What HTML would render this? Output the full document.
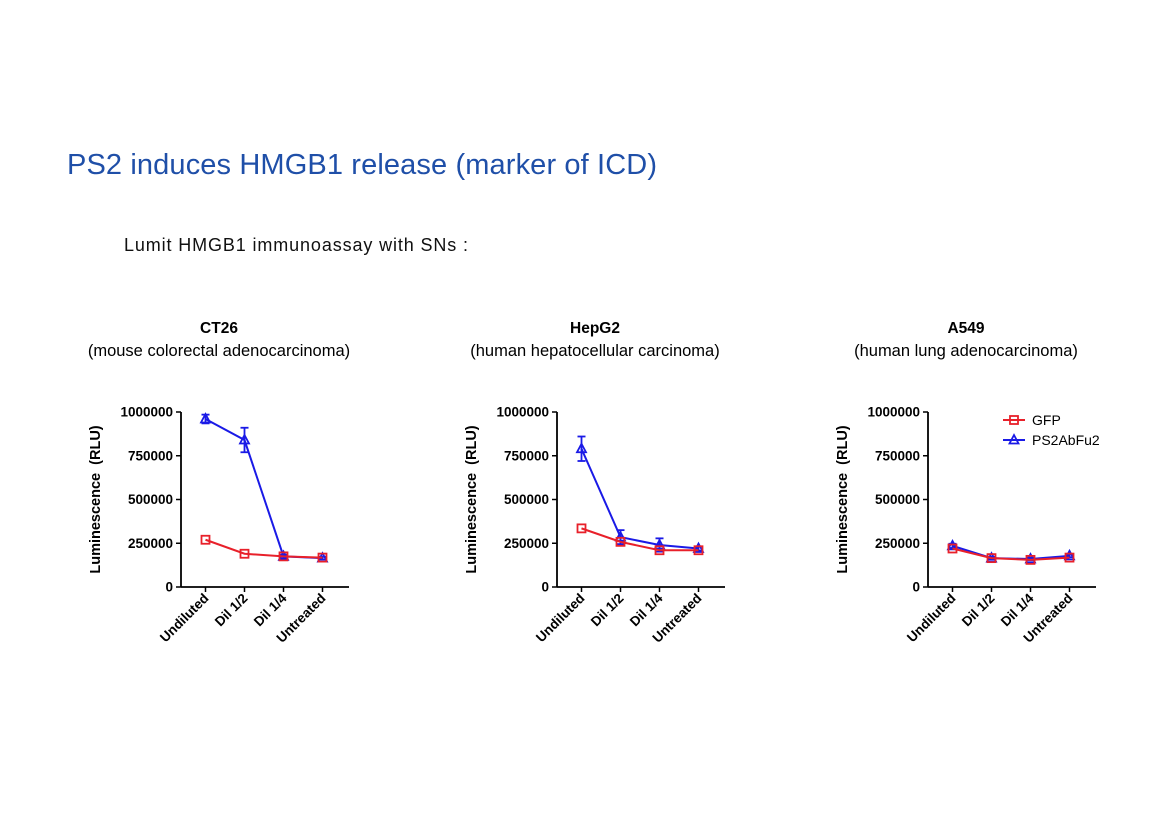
<!DOCTYPE html>
<html><head><meta charset="utf-8"><style>
body{margin:0;background:#fff;width:1168px;height:825px;overflow:hidden;font-family:"Liberation Sans",Arial,sans-serif}
svg text{font-family:"Liberation Sans",Arial,sans-serif}
</style></head><body>
<svg id="c" width="1168" height="825">
<text x="67" y="174" font-size="29" fill="#1f4fa8" textLength="590">PS2 induces HMGB1 release (marker of ICD)</text>
<text x="124" y="251" font-size="18" fill="#111" textLength="344">Lumit HMGB1 immunoassay with SNs :</text>
</svg>
<script>
const categories=["Undiluted","Dil 1/2","Dil 1/4","Untreated"];
const yTicks=[0,250000,500000,750000,1000000];
const titles=["CT26","HepG2","A549"];
const subtitles=["(mouse colorectal adenocarcinoma)","(human hepatocellular carcinoma)","(human lung adenocarcinoma)"];
const gfpCT26=[270000,190000,175000,168000];
const ps2CT26=[960000,840000,175000,165000];
const ps2ErrCT26=[25000,70000,10000,8000];
const gfpHepG2=[335000,258000,210000,210000];
const ps2HepG2=[790000,285000,240000,220000];
const ps2ErrHepG2=[70000,40000,38000,12000];
const gfpA549=[220000,165000,155000,168000];
const ps2A549=[235000,165000,160000,178000];
const ps2ErrA549=[12000,8000,8000,8000];
const gfpSets=[gfpCT26,gfpHepG2,gfpA549];
const ps2Sets=[ps2CT26,ps2HepG2,ps2A549];
const errSets=[ps2ErrCT26,ps2ErrHepG2,ps2ErrA549];
const axisX=[181,557,928];
const NS="http://www.w3.org/2000/svg";
const svg=document.getElementById('c');
function mk(t,a,p){const e=document.createElementNS(NS,t);for(const k in a)e.setAttribute(k,a[k]);(p||svg).appendChild(e);return e;}
const yTop=412,yBot=587;
function yS(v){return yBot-(v/1000000)*(yBot-yTop);}
for(let c=0;c<3;c++){
  const ax=axisX[c];
  const xS=i=>ax+24.5+i*39;
  const g=mk('g',{});
  
  
  const cx=ax+38;
  let t=mk('text',{x:cx,y:333,'font-size':15.5,'font-weight':'bold','text-anchor':'middle'},g);t.textContent=titles[c];
  
  t=mk('text',{x:cx,y:356,'font-size':16.5,'text-anchor':'middle'},g);t.textContent=subtitles[c];
  
  let a=mk('line',{x1:ax,y1:yTop,x2:ax,y2:yBot,stroke:'#000','stroke-width':1.8},g);
  
  a=mk('line',{x1:ax,y1:yBot,x2:ax+168,y2:yBot,stroke:'#000','stroke-width':1.8},g);
  
  yTicks.forEach(v=>{const y=yS(v);
    mk('line',{x1:ax-5,y1:y,x2:ax,y2:y,stroke:'#000','stroke-width':1.5},g);
    const l=mk('text',{x:ax-8,y:y+4.5,'font-size':13.5,'font-weight':'bold','text-anchor':'end'},g);l.textContent=v;
    });
  const yl=mk('text',{transform:`translate(${ax-81},${(yTop+yBot)/2}) rotate(-90)`,'font-size':14.5,'font-weight':'bold','text-anchor':'middle'},g);
  yl.textContent='Luminescence\u00a0 (RLU)';
  
  categories.forEach((cat,i)=>{const x=xS(i);
    mk('line',{x1:x,y1:yBot,x2:x,y2:yBot+5,stroke:'#000','stroke-width':1.5},g);
    const l=mk('text',{transform:`translate(${x+4},${yBot+12}) rotate(-45)`,'font-size':13.5,'font-weight':'bold','text-anchor':'end'},g);l.textContent=cat;
    });
  const ps=ps2Sets[c],er=errSets[c],gf=gfpSets[c];
  const pl=mk('polyline',{points:ps.map((v,i)=>xS(i)+','+yS(v)).join(' '),fill:'none',stroke:'#1a1ae6','stroke-width':2},g);
  
  ps.forEach((v,i)=>{const x=xS(i),y=yS(v),e=er[i];
    mk('line',{x1:x,y1:yS(v+e),x2:x,y2:yS(v-e),stroke:'#1a1ae6','stroke-width':1.8},g);
    mk('line',{x1:x-4,y1:yS(v+e),x2:x+4,y2:yS(v+e),stroke:'#1a1ae6','stroke-width':1.8},g);
    mk('line',{x1:x-4,y1:yS(v-e),x2:x+4,y2:yS(v-e),stroke:'#1a1ae6','stroke-width':1.8},g);
    const m=mk('polygon',{points:`${x},${y-5} ${x-4.5},${y+3.5} ${x+4.5},${y+3.5}`,fill:'none',stroke:'#1a1ae6','stroke-width':1.8},g);
    });
  const gl=mk('polyline',{points:gf.map((v,i)=>xS(i)+','+yS(v)).join(' '),fill:'none',stroke:'#e8202a','stroke-width':2},g);
  
  gf.forEach((v,i)=>{const x=xS(i),y=yS(v);
    const m=mk('rect',{x:x-4,y:y-4,width:8,height:8,fill:'none',stroke:'#e8202a','stroke-width':1.8},g);
    });
}
const lg=mk('g',{});

mk('line',{x1:1003,y1:420,x2:1025,y2:420,stroke:'#e8202a','stroke-width':2},lg);
mk('rect',{x:1010,y:416,width:8,height:8,fill:'none',stroke:'#e8202a','stroke-width':1.8},lg);
let lt=mk('text',{x:1032,y:425,'font-size':14},lg);lt.textContent='GFP';

mk('line',{x1:1003,y1:440,x2:1025,y2:440,stroke:'#1a1ae6','stroke-width':2},lg);
mk('polygon',{points:'1014,435 1009.5,443.5 1018.5,443.5',fill:'none',stroke:'#1a1ae6','stroke-width':1.8},lg);
lt=mk('text',{x:1032,y:445,'font-size':14},lg);lt.textContent='PS2AbFu2';

</script>
</body></html>
